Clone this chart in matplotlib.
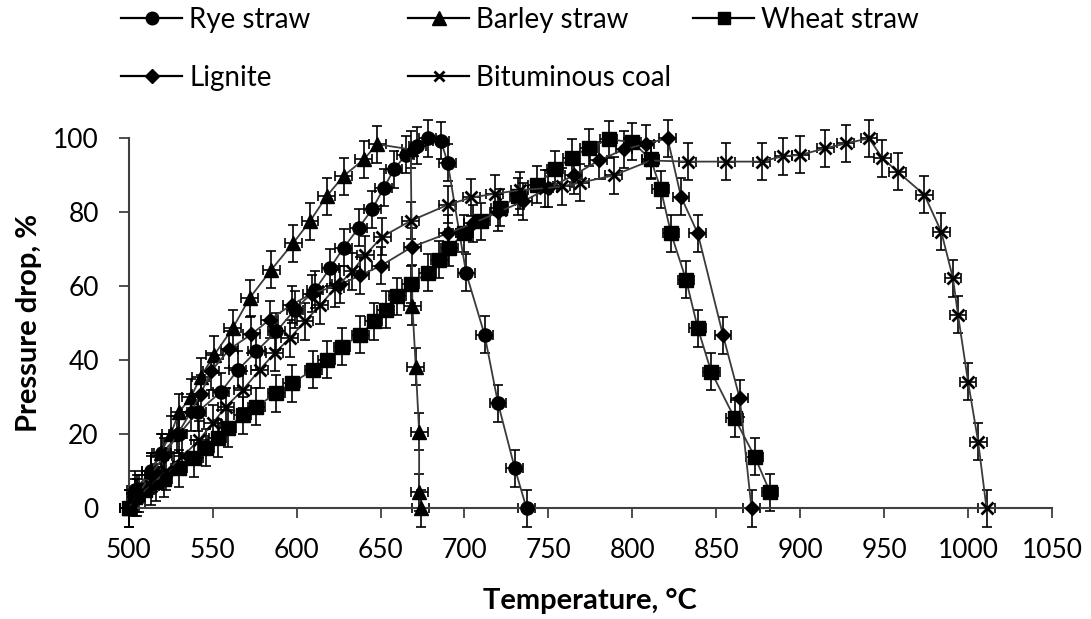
import matplotlib
matplotlib.use("Agg")
import matplotlib.pyplot as plt

plt.rcParams['font.family'] = ['Lato', 'DejaVu Sans']

# Pressure drop vs temperature
rye_t = [500, 504, 513, 520, 530, 541, 555, 565, 576, 588, 599, 611, 620, 628, 637,
         645, 652, 658, 665, 672, 678, 686, 690, 701, 712, 720, 730, 737]
rye_p = [0, 5, 10, 15, 20, 26, 31.5, 37.4, 42.4, 47.8, 53.7, 59, 65, 70.4, 75.8,
         80.8, 86.6, 91.6, 95.5, 98, 100, 99.3, 93.4, 63.6, 46.9, 28.4, 10.8, 0]

barley_t = [500, 505, 513, 519, 525, 530, 537, 543, 551, 562, 572, 585, 598, 608,
            618, 628, 640, 648, 668, 669, 671, 673, 673, 674]
barley_p = [0, 4, 10, 15, 20, 26, 30, 35.6, 41.5, 48.7, 56.8, 64.5, 71.7, 77.6,
            84.4, 89.8, 94.3, 98.4, 97, 54.6, 38.3, 20.7, 4.4, 0]

wheat_t = [500, 504, 510, 516, 521, 530, 539, 546, 553, 559, 568, 576, 588, 597,
           610, 618, 627, 638, 646, 653, 660, 668, 678, 685, 691, 700, 710, 721,
           732, 743, 754, 764, 774, 786, 800, 811, 817, 823, 832, 839, 847, 861,
           873, 882]
wheat_p = [0, 3, 5, 7, 8, 10.8, 13.5, 16.3, 18.9, 21.6, 25.2, 27.5, 31.1, 33.8,
           37.4, 40.1, 43.7, 46.9, 50.5, 53.7, 57.3, 60.6, 63.6, 67.2, 70.4, 74.4,
           77.6, 81.2, 84.4, 87.5, 91.6, 94.8, 97.5, 99.7, 99, 94.3, 86.2, 74.4,
           61.8, 48.7, 36.9, 24.3, 13.9, 4.4]

lignite_t = [500, 506, 513, 521, 529, 537, 543, 549, 560, 573, 584, 597, 609, 626,
             638, 650, 669, 690, 705, 720, 735, 750, 765, 780, 795, 808, 821, 829,
             839, 854, 864, 871]
lignite_p = [0, 4, 9, 14, 20, 26, 31, 37, 43, 47, 51, 55, 58, 60.5, 63, 65.5, 70.7,
             74.3, 77, 80, 83, 86.5, 90, 94, 97, 98.5, 100, 84.2, 74.3, 46.8, 29.7, 0]

coal_t = [500, 505, 513, 522, 532, 542, 550, 558, 568, 578, 587, 596, 605, 614,
          623, 633, 641, 651, 668, 690, 704, 718, 733, 748, 758, 769, 789, 811,
          833, 856, 877, 890, 900, 915, 927, 941, 949, 958, 974, 984, 991, 994,
          1000, 1006, 1011]
coal_p = [0, 3, 6, 10, 14, 18.5, 23, 27.5, 32, 37.4, 42, 46, 50.5, 54.9, 59.5, 64,
          68.5, 73.4, 77.7, 82, 84, 85, 86, 86.5, 87, 88, 90, 94, 93.7, 93.7, 93.7,
          95.2, 95.5, 97.3, 98.6, 100, 94.6, 91, 84.7, 74.8, 62.2, 52.3, 34.2, 18, 0]

t_err = 5
p_err = 5

series = [
    ('Rye straw', rye_t, rye_p, 'o', 9.5),
    ('Barley straw', barley_t, barley_p, '^', 10),
    ('Wheat straw', wheat_t, wheat_p, 's', 9.5),
    ('Lignite', lignite_t, lignite_p, 'D', 7),
    ('Bituminous coal', coal_t, coal_p, 'x', 8),
]

fig = plt.figure(figsize=(10.91, 6.19), dpi=100)
ax = fig.add_axes([128.7 / 1091, 1 - 508.3 / 619, (1052 - 128.7) / 1091, (508.3 - 138.3) / 619])

handles = []
for name, t, p, mk, ms in series:
    ax.errorbar(t, p, xerr=t_err, yerr=p_err, fmt='none', ecolor='black',
                elinewidth=1.2, capsize=3.6, capthick=1.2, clip_on=False, zorder=2)
    line, = ax.plot(t, p, color='#3a3a3a', lw=1.3, marker=mk, ms=ms,
                    mfc='black', mec='black', mew=2 if mk == 'x' else 1,
                    clip_on=False, zorder=3)
    handles.append((name, mk, ms))

ax.set_xlim(500, 1050)
ax.set_ylim(0, 100)
ax.set_xticks(range(500, 1051, 50))
ax.set_yticks(range(0, 101, 20))
ax.spines['top'].set_visible(False)
ax.spines['right'].set_visible(False)
for s in ('left', 'bottom'):
    ax.spines[s].set_linewidth(1.5)
    ax.spines[s].set_color('#404040')
ax.tick_params(direction='out', length=7.5, width=1.3, color='#404040',
               labelsize=19, pad=14)

ax.set_xlabel('Temperature, °C', fontsize=21, fontweight='bold', labelpad=18)
ax.set_ylabel('Pressure drop, %', fontsize=21, fontweight='bold', labelpad=8)

# legend entries laid out like the original, one box per entry
spots = [(121, 20), (408, 20), (693, 20), (121, 78), (408, 78)]
for (name, mk, ms), (px, py) in zip(handles, spots):
    h, = ax.plot([], [], color='black', lw=1.6, marker=mk, ms=ms * 0.95,
                 mfc='black', mec='black', mew=2 if mk == 'x' else 1)
    fig.legend([h], [name], loc='center left',
               bbox_to_anchor=(px / 1091, 1 - py / 619), frameon=False,
               borderpad=0, borderaxespad=0, handlelength=2.2,
               handletextpad=0.25, fontsize=20)

fig.savefig('out.png', dpi=100)
